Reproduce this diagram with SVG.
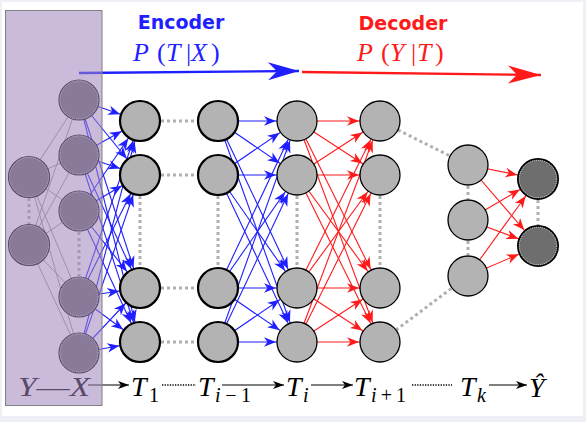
<svg xmlns="http://www.w3.org/2000/svg" width="586" height="422" viewBox="0 0 586 422">
<defs>
<style>
.enc{stroke:#1f1fff;stroke-width:1.1;fill:none}
.dec{stroke:#ff1a1a;stroke-width:1.1;fill:none}
.gl{stroke:#9a9a9a;stroke-width:1;fill:none}
.dot{stroke:#b0b0b0;stroke-width:3;stroke-dasharray:3 3;fill:none}
.bdot{stroke:#000;stroke-width:1.6;stroke-dasharray:1.3 1.3;fill:none}
.barr{stroke:#000;stroke-width:1.1;fill:none}
.g1{fill:#b3b3b3;stroke:#000;stroke-width:2.2}
.g2{fill:#b3b3b3;stroke:#000;stroke-width:1.3}
.dk{fill:#6e6e6e;stroke:#000;stroke-width:2}
.in{fill:none;stroke:#fff;stroke-width:0.8;stroke-dasharray:1 1}
.m{font-family:"Liberation Serif","Times New Roman",serif;fill:#000}
.it{font-style:italic}
</style>
<marker id="hb" markerUnits="userSpaceOnUse" orient="auto" refX="21" refY="0" markerWidth="40" markerHeight="20" overflow="visible"><path d="M0,0 L-12,-4.8 L-8.5,0 L-12,4.8 z" fill="#1f1fff"/></marker>
<marker id="hr" markerUnits="userSpaceOnUse" orient="auto" refX="21" refY="0" markerWidth="40" markerHeight="20" overflow="visible"><path d="M0,0 L-12,-4.8 L-8.5,0 L-12,4.8 z" fill="#ff1a1a"/></marker>
<marker id="hk" markerUnits="userSpaceOnUse" orient="auto" refX="0" refY="0" markerWidth="20" markerHeight="20" overflow="visible"><path d="M0,0 L-11,-4 L-8,0 L-11,4 z" fill="#000"/></marker>
<marker id="bigb" markerUnits="userSpaceOnUse" orient="auto" refX="0" refY="0" markerWidth="40" markerHeight="30" overflow="visible"><path d="M0,0 L-31,-9 L-22,0 L-31,9 z" fill="#1f1fff"/></marker>
<marker id="bigr" markerUnits="userSpaceOnUse" orient="auto" refX="0" refY="0" markerWidth="40" markerHeight="30" overflow="visible"><path d="M0,0 L-33,-9 L-24,0 L-33,9 z" fill="#ff1a1a"/></marker>
</defs>
<rect x="0" y="0" width="586" height="422" fill="#eff0f5"/>
<rect x="2" y="2" width="581" height="414" fill="#fff"/>

<g id="connectors">
<g class="gl">
<line x1="29" y1="177" x2="79" y2="100"/><line x1="29" y1="177" x2="79" y2="155"/><line x1="29" y1="177" x2="79" y2="211"/><line x1="29" y1="177" x2="79" y2="297"/><line x1="29" y1="177" x2="79" y2="353"/>
<line x1="29" y1="245" x2="79" y2="100"/><line x1="29" y1="245" x2="79" y2="155"/><line x1="29" y1="245" x2="79" y2="211"/><line x1="29" y1="245" x2="79" y2="297"/><line x1="29" y1="245" x2="79" y2="353"/>
</g>
<g class="enc" marker-end="url(#hb)">
<line x1="79" y1="100" x2="140" y2="121"/><line x1="79" y1="100" x2="140" y2="175"/><line x1="79" y1="100" x2="140" y2="288"/><line x1="79" y1="100" x2="140" y2="342"/>
<line x1="79" y1="155" x2="140" y2="121"/><line x1="79" y1="155" x2="140" y2="175"/><line x1="79" y1="155" x2="140" y2="288"/><line x1="79" y1="155" x2="140" y2="342"/>
<line x1="79" y1="211" x2="140" y2="121"/><line x1="79" y1="211" x2="140" y2="175"/><line x1="79" y1="211" x2="140" y2="288"/><line x1="79" y1="211" x2="140" y2="342"/>
<line x1="79" y1="297" x2="140" y2="121"/><line x1="79" y1="297" x2="140" y2="175"/><line x1="79" y1="297" x2="140" y2="288"/><line x1="79" y1="297" x2="140" y2="342"/>
<line x1="79" y1="353" x2="140" y2="121"/><line x1="79" y1="353" x2="140" y2="175"/><line x1="79" y1="353" x2="140" y2="288"/><line x1="79" y1="353" x2="140" y2="342"/>
</g>
<g class="enc" marker-end="url(#hb)">
<line x1="218" y1="121" x2="297" y2="121"/><line x1="218" y1="121" x2="297" y2="175"/><line x1="218" y1="121" x2="297" y2="288"/><line x1="218" y1="121" x2="297" y2="342"/>
<line x1="218" y1="175" x2="297" y2="121"/><line x1="218" y1="175" x2="297" y2="175"/><line x1="218" y1="175" x2="297" y2="288"/><line x1="218" y1="175" x2="297" y2="342"/>
<line x1="218" y1="288" x2="297" y2="121"/><line x1="218" y1="288" x2="297" y2="175"/><line x1="218" y1="288" x2="297" y2="288"/><line x1="218" y1="288" x2="297" y2="342"/>
<line x1="218" y1="342" x2="297" y2="121"/><line x1="218" y1="342" x2="297" y2="175"/><line x1="218" y1="342" x2="297" y2="288"/><line x1="218" y1="342" x2="297" y2="342"/>
</g>
<g class="dec" marker-end="url(#hr)">
<line x1="297" y1="121" x2="380" y2="121"/><line x1="297" y1="121" x2="380" y2="175"/><line x1="297" y1="121" x2="380" y2="288"/><line x1="297" y1="121" x2="380" y2="342"/>
<line x1="297" y1="175" x2="380" y2="121"/><line x1="297" y1="175" x2="380" y2="175"/><line x1="297" y1="175" x2="380" y2="288"/><line x1="297" y1="175" x2="380" y2="342"/>
<line x1="297" y1="288" x2="380" y2="121"/><line x1="297" y1="288" x2="380" y2="175"/><line x1="297" y1="288" x2="380" y2="288"/><line x1="297" y1="288" x2="380" y2="342"/>
<line x1="297" y1="342" x2="380" y2="121"/><line x1="297" y1="342" x2="380" y2="175"/><line x1="297" y1="342" x2="380" y2="288"/><line x1="297" y1="342" x2="380" y2="342"/>
</g>
<g class="dec" marker-end="url(#hr)">
<line x1="468" y1="165" x2="538" y2="179"/><line x1="468" y1="165" x2="538" y2="246"/>
<line x1="468" y1="220" x2="538" y2="179"/><line x1="468" y1="220" x2="538" y2="246"/>
<line x1="468" y1="276" x2="538" y2="179"/><line x1="468" y1="276" x2="538" y2="246"/>
</g>
<g class="dot">
<line x1="29" y1="198" x2="29" y2="224"/>
<line x1="79" y1="232" x2="79" y2="276"/>
<line x1="161" y1="121" x2="197" y2="121"/><line x1="161" y1="175" x2="197" y2="175"/><line x1="161" y1="288" x2="197" y2="288"/><line x1="161" y1="342" x2="197" y2="342"/>
<line x1="140" y1="196" x2="140" y2="267"/><line x1="218" y1="196" x2="218" y2="267"/><line x1="297" y1="196" x2="297" y2="267"/><line x1="380" y1="196" x2="380" y2="267"/>
<line x1="398" y1="130" x2="450" y2="156"/><line x1="396" y1="330" x2="452" y2="288"/>
<line x1="468" y1="186" x2="468" y2="199"/><line x1="468" y1="241" x2="468" y2="255"/>
<line x1="538" y1="200" x2="538" y2="225"/>
</g>
<line x1="79" y1="73" x2="299" y2="71" stroke="#1f1fff" stroke-width="2.3" marker-end="url(#bigb)"/>
<line x1="302" y1="72" x2="541" y2="75" stroke="#ff1a1a" stroke-width="2.3" marker-end="url(#bigr)"/>
<line class="barr" x1="88" y1="385" x2="129" y2="385" marker-end="url(#hk)"/>
<line class="barr" x1="222" y1="385" x2="284" y2="385" marker-end="url(#hk)"/>
<line class="barr" x1="311" y1="385" x2="353" y2="385" marker-end="url(#hk)"/>
<line class="barr" x1="489" y1="385" x2="527" y2="385" marker-end="url(#hk)"/>
<line class="bdot" x1="162" y1="385" x2="196" y2="385"/>
<line class="bdot" x1="412" y1="385" x2="452" y2="385"/>
</g>

<g id="input">
<g id="x1"><circle cx="29" cy="177" r="20.5" class="dk" style="stroke-width:1.2"/><circle cx="29" cy="177" r="19.6" class="in"/></g>
<g id="x2"><circle cx="29" cy="245" r="20.5" class="dk" style="stroke-width:1.2"/><circle cx="29" cy="245" r="19.6" class="in"/></g>
<g id="h1"><circle cx="79" cy="100" r="20" class="dk" style="stroke-width:1.2"/><circle cx="79" cy="100" r="19.1" class="in"/></g>
<g id="h2"><circle cx="79" cy="155" r="20" class="dk" style="stroke-width:1.2"/><circle cx="79" cy="155" r="19.1" class="in"/></g>
<g id="h3"><circle cx="79" cy="211" r="20" class="dk" style="stroke-width:1.2"/><circle cx="79" cy="211" r="19.1" class="in"/></g>
<g id="h4"><circle cx="79" cy="297" r="20" class="dk" style="stroke-width:1.2"/><circle cx="79" cy="297" r="19.1" class="in"/></g>
<g id="h5"><circle cx="79" cy="353" r="20" class="dk" style="stroke-width:1.2"/><circle cx="79" cy="353" r="19.1" class="in"/></g>
</g>
<text class="m" x="18" y="396" font-size="27" textLength="72" lengthAdjust="spacingAndGlyphs"><tspan class="it">Y</tspan>—<tspan class="it">X</tspan></text>

<rect id="inputbox" x="5.5" y="10.5" width="96.5" height="395" fill="rgb(161,133,190)" fill-opacity="0.557" stroke="#808080" stroke-width="1"/>

<g id="T1">
<g id="t1a"><circle cx="140" cy="121" r="20" class="g1"/></g>
<g id="t1b"><circle cx="140" cy="175" r="20" class="g1"/></g>
<g id="t1c"><circle cx="140" cy="288" r="20" class="g1"/></g>
<g id="t1d"><circle cx="140" cy="342" r="20" class="g1"/></g>
</g>
<g id="Tim1">
<g id="tma"><circle cx="218" cy="121" r="20" class="g1"/></g>
<g id="tmb"><circle cx="218" cy="175" r="20" class="g1"/></g>
<g id="tmc"><circle cx="218" cy="288" r="20" class="g1"/></g>
<g id="tmd"><circle cx="218" cy="342" r="20" class="g1"/></g>
</g>
<g id="Ti">
<g id="tia"><circle cx="297" cy="121" r="20" class="g2"/></g>
<g id="tib"><circle cx="297" cy="175" r="20" class="g2"/></g>
<g id="tic"><circle cx="297" cy="288" r="20" class="g2"/></g>
<g id="tid"><circle cx="297" cy="342" r="20" class="g2"/></g>
</g>
<g id="Tip1">
<g id="tpa"><circle cx="380" cy="121" r="20" class="g2"/></g>
<g id="tpb"><circle cx="380" cy="175" r="20" class="g2"/></g>
<g id="tpc"><circle cx="380" cy="288" r="20" class="g2"/></g>
<g id="tpd"><circle cx="380" cy="342" r="20" class="g2"/></g>
</g>
<g id="Tk">
<g id="tka"><circle cx="468" cy="165" r="20" class="g2"/></g>
<g id="tkb"><circle cx="468" cy="220" r="20" class="g2"/></g>
<g id="tkc"><circle cx="468" cy="276" r="20" class="g2"/></g>
</g>
<g id="output">
<g id="y1"><circle cx="538" cy="179" r="20" class="dk"/><circle cx="538" cy="179" r="18.8" class="in"/></g>
<g id="y2"><circle cx="538" cy="246" r="20" class="dk"/><circle cx="538" cy="246" r="18.8" class="in"/></g>
</g>

<g id="titles">
<text x="181" y="29" font-family="DejaVu Sans, sans-serif" font-weight="bold" font-size="19" fill="#1f1fff" text-anchor="middle">Encoder</text>
<text x="403" y="30" font-family="DejaVu Sans, sans-serif" font-weight="bold" font-size="19" fill="#ff1a1a" text-anchor="middle">Decoder</text>
<text class="m" y="61" font-size="26" style="fill:#1f1fff"><tspan class="it" x="133">P</tspan><tspan x="157">(</tspan><tspan class="it" x="166">T</tspan><tspan x="186">|</tspan><tspan class="it" x="191">X</tspan><tspan x="211">)</tspan></text>
<text class="m" y="61" font-size="26" style="fill:#ff1a1a"><tspan class="it" x="357">P</tspan><tspan x="381">(</tspan><tspan class="it" x="390">Y</tspan><tspan x="411">|</tspan><tspan class="it" x="417">T</tspan><tspan x="435">)</tspan></text>
</g>

<g id="chain">
<text class="m it" x="131" y="396" font-size="28">T</text><text class="m" x="149" y="402" font-size="20">1</text>
<text class="m it" x="198" y="396" font-size="28">T</text><text class="m" x="215" y="402" font-size="20" textLength="36" lengthAdjust="spacing"><tspan class="it">i</tspan>−1</text>
<text class="m it" x="286" y="396" font-size="28">T</text><text class="m it" x="303" y="402" font-size="20">i</text>
<text class="m it" x="354" y="396" font-size="28">T</text><text class="m" x="371" y="402" font-size="20" textLength="35" lengthAdjust="spacing"><tspan class="it">i</tspan>+1</text>
<text class="m it" x="460" y="396" font-size="28">T</text><text class="m it" x="477" y="402" font-size="20">k</text>
<text class="m it" x="529" y="397" font-size="28">Ŷ</text>
</g>
</svg>
